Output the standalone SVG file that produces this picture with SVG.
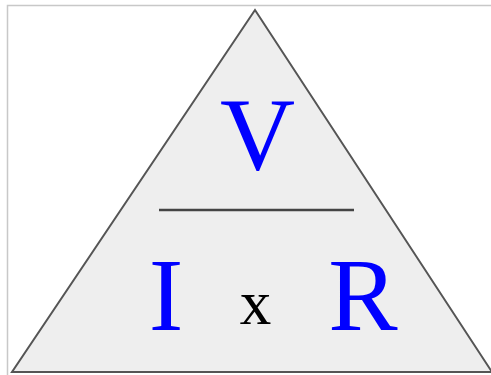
<svg xmlns="http://www.w3.org/2000/svg" width="491" height="375" viewBox="0 0 491 375">
<style>
.big{font-family:"Liberation Serif","Times New Roman",serif;font-size:104px;fill:#0000ff;text-anchor:middle}
.op{font-family:"Liberation Serif","Times New Roman",serif;font-size:63px;fill:#000;text-anchor:middle}
</style>
<rect x="0" y="0" width="491" height="375" fill="#ffffff"/>
<path d="M7.5 375 V5.5 H491" fill="none" stroke="#c8c8c8" stroke-width="1.5"/>
<g id="triangle">
<polygon points="255,10 12,372 492,372" fill="#eeeeee" stroke="#555555" stroke-width="2" stroke-linejoin="miter"/>
</g>
<g id="divider">
<line x1="159" y1="210" x2="354" y2="210" stroke="#444444" stroke-width="2.5"/>
</g>
<g id="V"><text class="big" x="257.5" y="169">V</text></g>
<g id="I"><text class="big" x="166" y="330">I</text></g>
<g id="times"><text class="op" x="255.5" y="324">x</text></g>
<g id="R"><text class="big" x="363" y="330">R</text></g>
</svg>
